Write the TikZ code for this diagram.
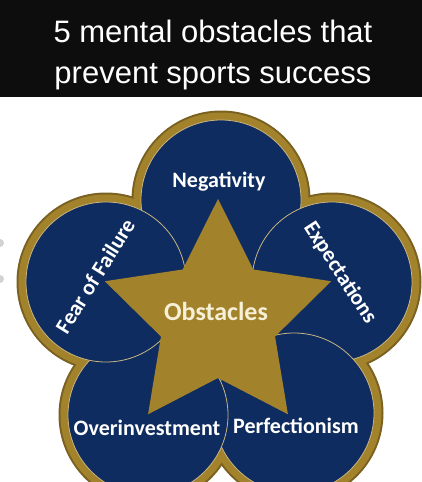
\documentclass[tikz,border=0pt]{standalone}
\usepackage{fontspec}
\setmainfont{Liberation Sans}
\newfontfamily\lblfont{Carlito}
\usetikzlibrary{positioning}
\definecolor{navy}{RGB}{14,44,96}
\definecolor{gold}{RGB}{163,130,44}
\definecolor{cream}{RGB}{246,240,214}

\tikzset{
  lobe/.style={fill=navy, draw=gold!60!white, line width=0.8pt},
  rim/.style={fill=gold},
  lbl/.style={text=white, inner sep=0pt, font=\lblfont\bfseries\fontsize{22}{22}\selectfont},
}

\begin{document}
\begin{tikzpicture}[x=1pt,y=-1pt]
    \useasboundingbox (0,0) rectangle (422,482);
    \clip (0,0) rectangle (422,482);
    \fill[white] (0,0) rectangle (422,482);

    % Header
    \fill[black!95] (0,0) rectangle (422,97);
    \node[anchor=base, white, font=\fontsize{31}{41}\selectfont] (title1) at (213,42) {5 mental obstacles that};
    \node[anchor=base, white, font=\fontsize{31}{41}\selectfont] (title2) at (213,83) {prevent sports success};

    % Dots at the edge
    \fill[gray!35] (0,243) circle (4);
    \fill[gray!35] (0,279) circle (4);

    % Centres of the lobes
    \coordinate (neg) at (221,200);
    \coordinate (exp) at (332,282);
    \coordinate (perf) at (294,413);
    \coordinate (over) at (148,415);
    \coordinate (fear) at (106,282);
    \coordinate (obst) at (218,318);

    % Gold rim
    \foreach \c in {neg,exp,perf,over,fear}
        \fill[gold!75!black] (\c) circle (89.5);
    \foreach \c in {neg,exp,perf,over,fear}
        \fill[rim] (\c) circle (87.5);
    \fill[navy] (obst) circle (75);

    % Lobes
    \foreach \c in {neg,exp,perf,over,fear}
        \filldraw[lobe] (\c) circle (80);

    % Star
    \fill[gold] ([shift={(obst)}]-90:119)
        \foreach \a in {-54,18,90,162,234} {-- ([shift={(obst)}]\a:60) -- ([shift={(obst)}]{\a+36}:119)} -- cycle;

    % Labels
    \node[lbl, anchor=base] (negl) at (219,187) {Negativity};
    \node[lbl, rotate=58] (fearl) at (95,276) {Fear of Failure};
    \node[lbl, rotate=-57] (expl) at (340,273) {Expectations};
    \node[lbl, anchor=base] (overl) at (147,435) {Overinvestment};
    \node[lbl, anchor=base] (perfl) at (296,433) {Perfectionism};
    \node[lbl, anchor=base, text=cream, font=\lblfont\bfseries\fontsize{26}{26}\selectfont] (obstl) at (216,320) {Obstacles};
\end{tikzpicture}
\end{document}
